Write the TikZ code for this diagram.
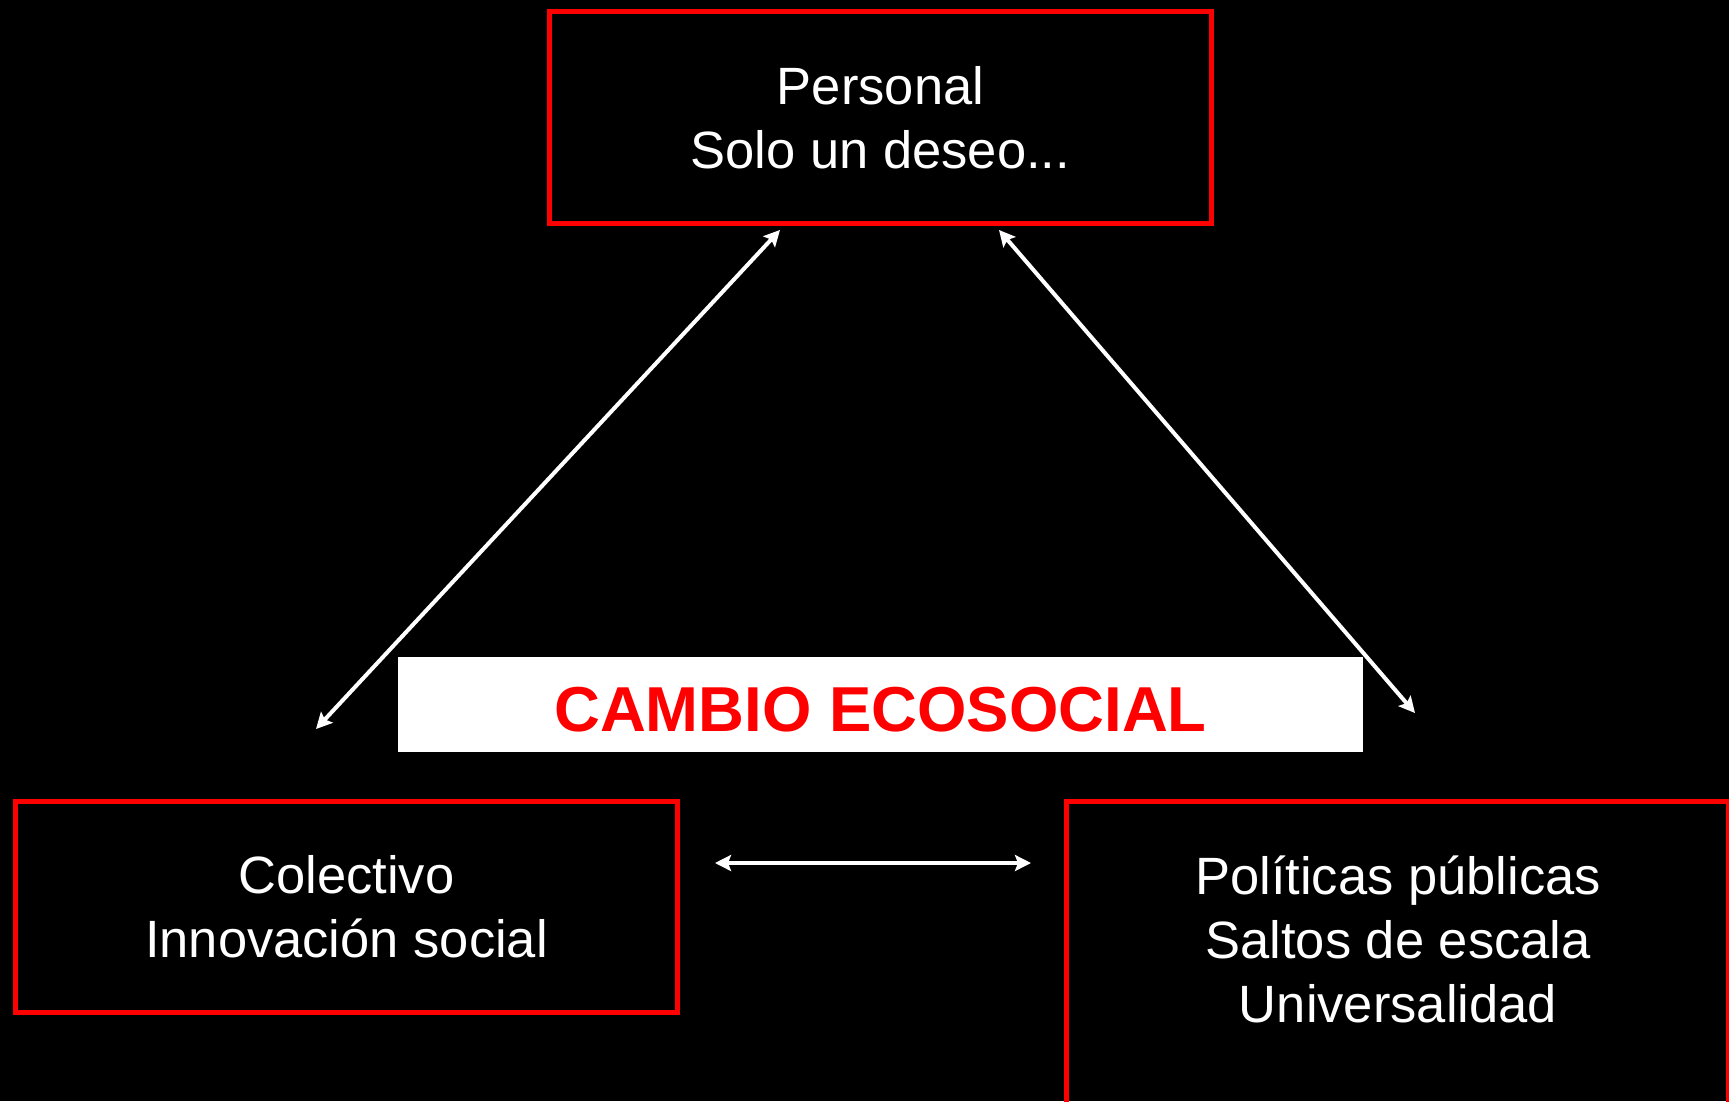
\documentclass[tikz,border=0pt]{standalone}
\usepackage{fontspec}
\setmainfont{Liberation Sans}
\usetikzlibrary{positioning,
        arrows.meta}

\begin{document}
\begin{tikzpicture}[x=1pt,y=-1pt,
        caja/.style={draw=red,line width=5pt,minimum width=662pt,minimum height=211pt},
        texto/.style={text=white,align=center,font=\fontsize{52.5}{64}\selectfont},
        flecha/.style={white,line width=4pt,{Stealth[length=16pt,width=16pt,inset=3pt]}-{Stealth[length=16pt,width=16pt,inset=3pt]}}]
            \useasboundingbox (0,0) rectangle (1729,1101);
            \clip (0,0) rectangle (1729,1101);
            \fill[black] (0,0) rectangle (1729,1101);

            \node [caja,texto,minimum height=212pt] (personal) at (880.5,117.5) {Personal\\Solo un deseo...};
            \node [caja,texto] (colectivo) at (346.5,907) {Colectivo\\Innovación social};
            \node [caja,anchor=north west,minimum height=420pt] (politicas) at (1064,799) {};
            \node [texto] (politicastxt) at (1398,939) {Políticas públicas\\Saltos de escala\\Universalidad};

            \node [fill=white,minimum width=965pt,minimum height=95pt,text height=55pt,text=red,font=\bfseries\fontsize{63.5}{70}\selectfont] (cambio) at (880.5,704.5) {CAMBIO ECOSOCIAL};

            \coordinate (a1) at (780,230);
            \coordinate (a2) at (316,729);
            \coordinate (b1) at (999,230);
            \coordinate (b2) at (1415,713);
            \coordinate (c1) at (715,863);
            \coordinate (c2) at (1031,863);

            \draw [flecha] (a1) -- (a2);
            \draw [flecha] (b1) -- (b2);
            \draw [flecha] (c1) -- (c2);
        \end{tikzpicture}
\end{document}
